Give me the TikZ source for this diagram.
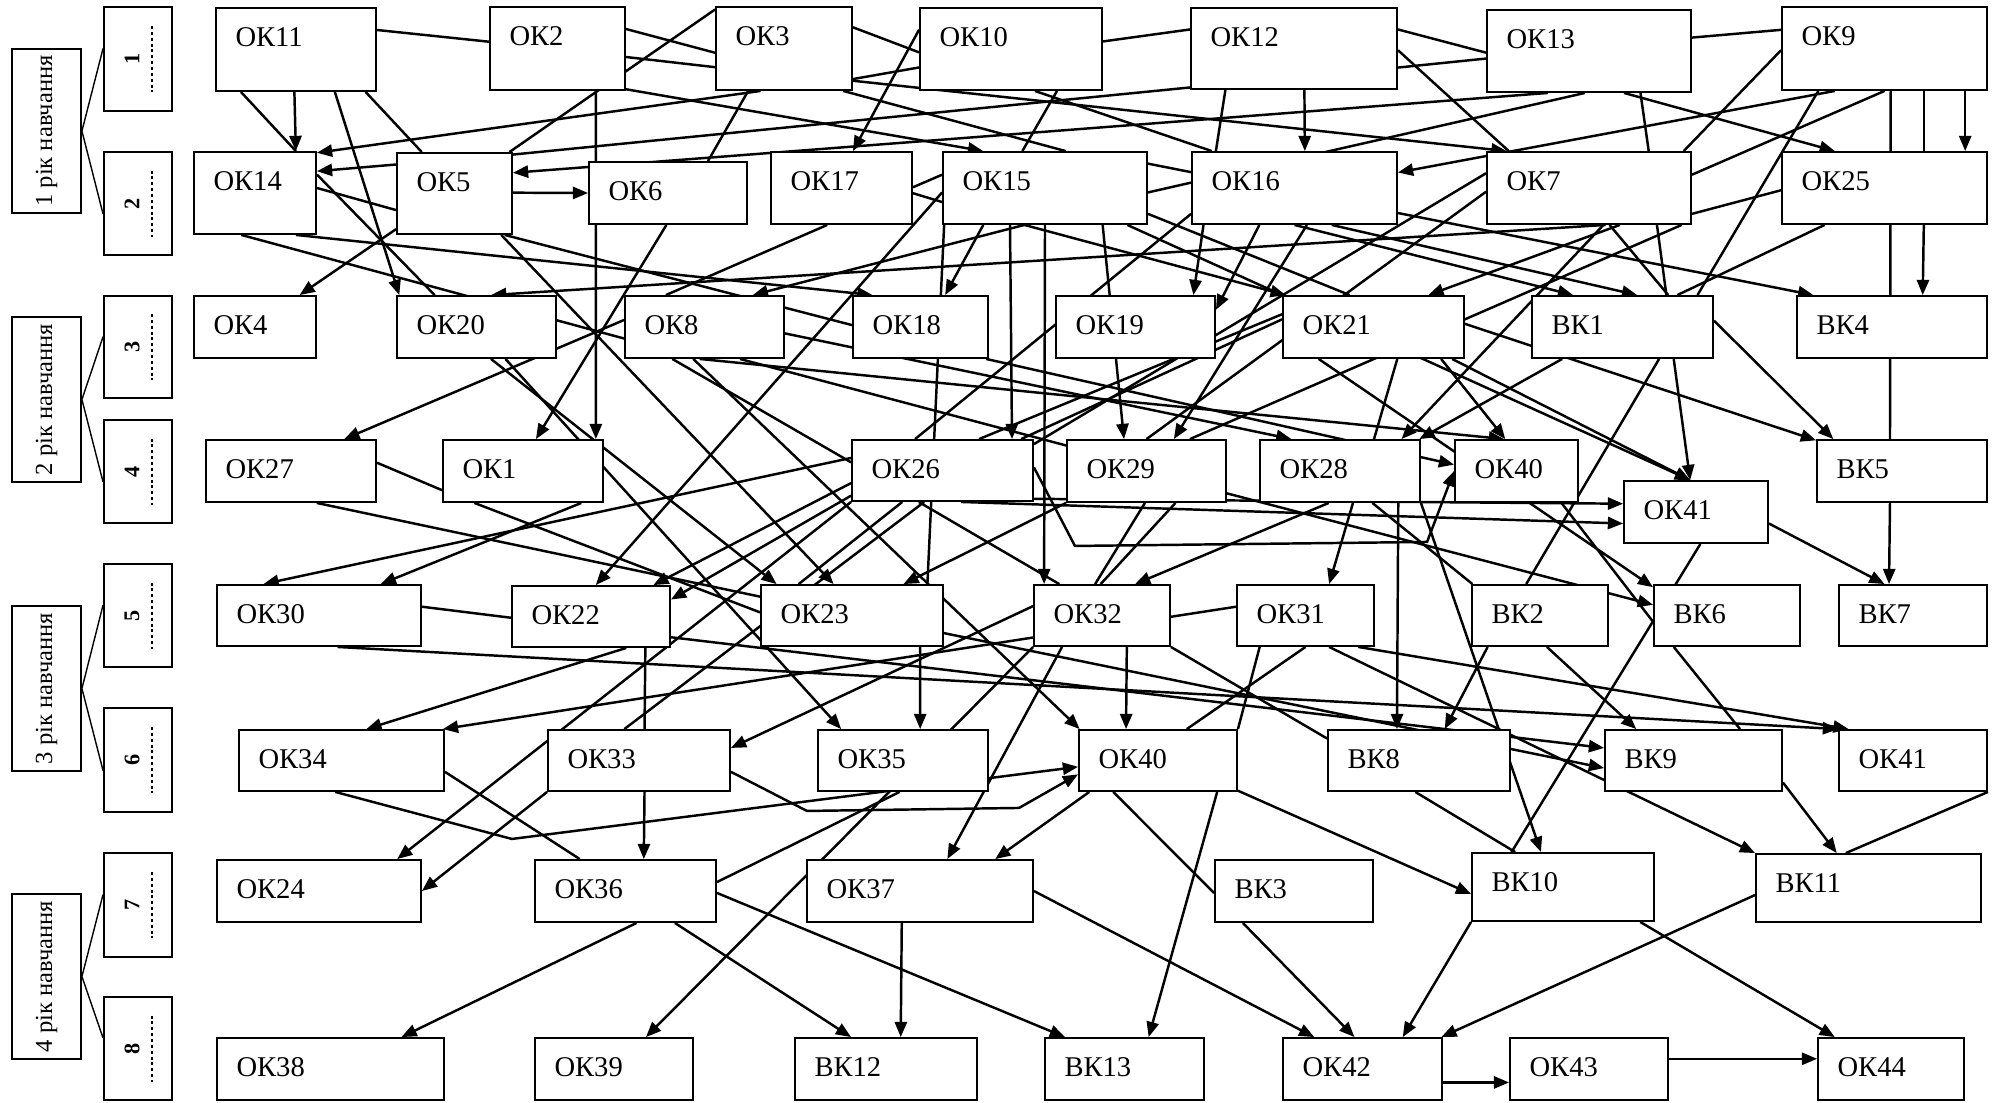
\documentclass[tikz,border=0pt]{standalone}
\usepackage{fontspec}
\setmainfont{Liberation Serif}
\usetikzlibrary{calc,fit,backgrounds,arrows.meta}
\newcommand{\atT}[2]{($(#1.north west)!#2!(#1.north east)$)}
\newcommand{\atB}[2]{($(#1.south west)!#2!(#1.south east)$)}
\newcommand{\atL}[2]{($(#1.north west)!#2!(#1.south west)$)}
\newcommand{\atR}[2]{($(#1.north east)!#2!(#1.south east)$)}
\tikzset{
  box/.style={draw, fill=white, inner sep=0pt, line width=0.8pt},
  lbl/.style={anchor=north west, inner sep=0pt, xshift=0.3cm, yshift=-0.3cm, font=\fontsize{12.2}{14}\selectfont},
  yeartxt/.style={rotate=90, inner sep=0pt, font=\fontsize{10.5}{12}\selectfont},
  semtxt/.style={rotate=90, inner sep=0pt, font=\bfseries\fontsize{9.5}{11}\selectfont},
  semdots/.style={line width=0.9pt, dash pattern=on 1.3pt off 1.2pt},
  lnk/.style={line width=1.05pt},
  >={Triangle[length=6.5pt,width=5.2pt]},
}
\begin{document}
\begin{tikzpicture}[x=0.015cm,y=-0.015cm]
\useasboundingbox (0,0) rectangle (1995,1102);
% years and semesters
\node[box, fit={(12,49)(81,213)}] (y1) {};
\node[box, fit={(12,317)(81,482)}] (y2) {};
\node[box, fit={(12,606)(81,771)}] (y3) {};
\node[box, fit={(12,894)(81,1059)}] (y4) {};
\node[yeartxt] (y1t) at (y1) {1 рік навчання};
\node[yeartxt] (y2t) at (y2) {2 рік навчання};
\node[yeartxt] (y3t) at (y3) {3 рік навчання};
\node[yeartxt] (y4t) at (y4) {4 рік навчання};
\node[box, fit={(104,7)(172,111)}] (s1) {};
\node[box, fit={(104,152)(172,255)}] (s2) {};
\node[box, fit={(104,296)(172,398)}] (s3) {};
\node[box, fit={(104,420)(172,523)}] (s4) {};
\node[box, fit={(104,564)(172,667)}] (s5) {};
\node[box, fit={(104,708)(172,812)}] (s6) {};
\node[box, fit={(104,853)(172,957)}] (s7) {};
\node[box, fit={(104,997)(172,1100)}] (s8) {};
\foreach \s in {1,...,8}{
  \node[semtxt] (s\s t) at ($(s\s)+(-6,0)$) {\s};
  \draw[semdots] ($(s\s)+(14,-33)$) -- ($(s\s)+(14,33)$);
}
% row 1
\node[box, fit={(216,8)(376,91)}, label={[lbl]north west:ОК11}] (ok11) {};
\node[box, fit={(490,7)(625,90)}, label={[lbl]north west:ОК2}] (ok2) {};
\node[box, fit={(716,7)(852,90)}, label={[lbl]north west:ОК3}] (ok3) {};
\node[box, fit={(920,8)(1102,90)}, label={[lbl]north west:ОК10}] (ok10) {};
\node[box, fit={(1191,8)(1397,89)}, label={[lbl]north west:ОК12}] (ok12) {};
\node[box, fit={(1487,10)(1691,92)}, label={[lbl]north west:ОК13}] (ok13) {};
\node[box, fit={(1782,7)(1987,90)}, label={[lbl]north west:ОК9}] (ok9) {};
% row 2
\node[box, fit={(194,152)(316,234)}, label={[lbl]north west:ОК14}] (ok14) {};
\node[box, fit={(397,153)(512,234)}, label={[lbl]north west:ОК5}] (ok5) {};
\node[box, fit={(589,162)(747,224)}, label={[lbl]north west:ОК6}] (ok6) {};
\node[box, fit={(771,152)(912,224)}, label={[lbl]north west:ОК17}] (ok17) {};
\node[box, fit={(943,152)(1147,224)}, label={[lbl]north west:ОК15}] (ok15) {};
\node[box, fit={(1192,152)(1397,224)}, label={[lbl]north west:ОК16}] (ok16) {};
\node[box, fit={(1487,152)(1691,224)}, label={[lbl]north west:ОК7}] (ok7) {};
\node[box, fit={(1782,152)(1987,224)}, label={[lbl]north west:ОК25}] (ok25) {};
% row 3
\node[box, fit={(194,296)(316,358)}, label={[lbl]north west:ОК4}] (ok4) {};
\node[box, fit={(397,296)(556,358)}, label={[lbl]north west:ОК20}] (ok20) {};
\node[box, fit={(625,296)(784,358)}, label={[lbl]north west:ОК8}] (ok8) {};
\node[box, fit={(853,296)(988,358)}, label={[lbl]north west:ОК18}] (ok18) {};
\node[box, fit={(1056,296)(1215,358)}, label={[lbl]north west:ОК19}] (ok19) {};
\node[box, fit={(1283,296)(1464,358)}, label={[lbl]north west:ОК21}] (ok21) {};
\node[box, fit={(1532,296)(1713,358)}, label={[lbl]north west:ВК1}] (vk1) {};
\node[box, fit={(1797,296)(1987,358)}, label={[lbl]north west:ВК4}] (vk4) {};
% row 4
\node[box, fit={(206,440)(376,502)}, label={[lbl]north west:ОК27}] (ok27) {};
\node[box, fit={(443,440)(603,502)}, label={[lbl]north west:ОК1}] (ok1) {};
\node[box, fit={(852,440)(1033,501)}, label={[lbl]north west:ОК26}] (ok26) {};
\node[box, fit={(1067,440)(1226,502)}, label={[lbl]north west:ОК29}] (ok29) {};
\node[box, fit={(1260,440)(1420,502)}, label={[lbl]north west:ОК28}] (ok28) {};
\node[box, fit={(1455,440)(1578,502)}, label={[lbl]north west:ОК40}] (ok40u) {};
\node[box, fit={(1624,481)(1768,543)}, label={[lbl]north west:ОК41}] (ok41u) {};
\node[box, fit={(1817,440)(1987,502)}, label={[lbl]north west:ВК5}] (vk5) {};
% row 5
\node[box, fit={(217,585)(421,646)}, label={[lbl]north west:ОК30}] (ok30) {};
\node[box, fit={(512,586)(670,647)}, label={[lbl]north west:ОК22}] (ok22) {};
\node[box, fit={(761,585)(943,646)}, label={[lbl]north west:ОК23}] (ok23) {};
\node[box, fit={(1034,585)(1170,646)}, label={[lbl]north west:ОК32}] (ok32) {};
\node[box, fit={(1237,585)(1374,646)}, label={[lbl]north west:ОК31}] (ok31) {};
\node[box, fit={(1472,585)(1608,646)}, label={[lbl]north west:ВК2}] (vk2) {};
\node[box, fit={(1654,585)(1800,646)}, label={[lbl]north west:ВК6}] (vk6) {};
\node[box, fit={(1839,585)(1987,646)}, label={[lbl]north west:ВК7}] (vk7) {};
% row 6
\node[box, fit={(239,730)(444,791)}, label={[lbl]north west:ОК34}] (ok34) {};
\node[box, fit={(548,730)(730,791)}, label={[lbl]north west:ОК33}] (ok33) {};
\node[box, fit={(818,730)(988,791)}, label={[lbl]north west:ОК35}] (ok35) {};
\node[box, fit={(1079,730)(1237,791)}, label={[lbl]north west:ОК40}] (ok40l) {};
\node[box, fit={(1328,730)(1510,791)}, label={[lbl]north west:ВК8}] (vk8) {};
\node[box, fit={(1605,730)(1782,791)}, label={[lbl]north west:ВК9}] (vk9) {};
\node[box, fit={(1839,730)(1987,791)}, label={[lbl]north west:ОК41}] (ok41l) {};
% row 7
\node[box, fit={(217,860)(421,922)}, label={[lbl]north west:ОК24}] (ok24) {};
\node[box, fit={(535,860)(716,922)}, label={[lbl]north west:ОК36}] (ok36) {};
\node[box, fit={(807,860)(1033,922)}, label={[lbl]north west:ОК37}] (ok37) {};
\node[box, fit={(1215,860)(1373,922)}, label={[lbl]north west:ВК3}] (vk3) {};
\node[box, fit={(1472,853)(1654,921)}, label={[lbl]north west:ВК10}] (vk10) {};
\node[box, fit={(1756,854)(1981,922)}, label={[lbl]north west:ВК11}] (vk11) {};
% row 8
\node[box, fit={(217,1038)(444,1100)}, label={[lbl]north west:ОК38}] (ok38) {};
\node[box, fit={(535,1038)(693,1100)}, label={[lbl]north west:ОК39}] (ok39) {};
\node[box, fit={(795,1038)(977,1100)}, label={[lbl]north west:ВК12}] (vk12) {};
\node[box, fit={(1045,1038)(1204,1100)}, label={[lbl]north west:ВК13}] (vk13) {};
\node[box, fit={(1283,1038)(1442,1100)}, label={[lbl]north west:ОК42}] (ok42) {};
\node[box, fit={(1510,1038)(1668,1100)}, label={[lbl]north west:ОК43}] (ok43) {};
\node[box, fit={(1818,1038)(1964,1100)}, label={[lbl]north west:ОК44}] (ok44) {};
\begin{pgfonlayer}{background}
\fill[white] (0,0) rectangle (1995,1102);
\begin{scope}[line width=0.6pt]
\draw (y1.east) -- \atL{s1}{0.4}; \draw (y1.east) -- \atL{s2}{0.6};
\draw (y2.east) -- \atL{s3}{0.4}; \draw (y2.east) -- \atL{s4}{0.6};
\draw (y3.east) -- \atL{s5}{0.4}; \draw (y3.east) -- \atL{s6}{0.6};
\draw (y4.east) -- \atL{s7}{0.4}; \draw (y4.east) -- \atL{s8}{0.4};
\end{scope}
\begin{scope}[lnk]
% from the first row
\draw \atR{ok11}{0.27} -- \atL{ok2}{0.42};
\draw \atR{ok2}{0.27} -- \atL{ok3}{0.55};
\draw \atR{ok2}{0.6} -- \atL{ok3}{0.72};
\draw \atT{ok5}{0.97} -- \atL{ok3}{0.04};
\draw \atR{ok3}{0.25} -- \atL{ok10}{0.54};
\draw \atR{ok3}{0.86} -- \atL{ok10}{0.72};
\draw[->] \atR{ok3}{0.88} -- \atT{ok7}{0.1};
\draw \atR{ok10}{0.41} -- \atL{ok12}{0.27};
\draw \atR{ok12}{0.27} -- \atL{ok13}{0.52};
\draw \atR{ok12}{0.73} -- \atL{ok13}{0.59};
\draw \atR{ok13}{0.34} -- \atL{ok9}{0.28};
\draw \atR{ok12}{0.52} -- \atT{ok7}{0.11};
\draw[->] \atB{ok12}{0.55} -- \atT{ok16}{0.55};
\draw \atB{ok12}{0.17} -- \atT{ok16}{0.12};
\draw \atL{ok12}{0.97} -- \atR{ok5}{0.03};
\draw[->] \atB{ok13}{0.3} -- \atR{ok5}{0.25};
\draw \atB{ok13}{0.48} -- \atR{ok15}{0.56};
\draw[->] \atB{ok13}{0.67} -- \atT{ok25}{0.26};
\draw \atB{ok13}{0.75} -- \atT{ok7}{0.79};
\draw[->] \atB{ok9}{0.26} -- \atR{ok16}{0.29};
\draw \atL{ok9}{0.52} -- \atT{ok7}{0.96};
\draw \atB{ok9}{0.5} -- \atR{ok7}{0.32};
\draw \atB{ok9}{0.18} -- \atT{vk1}{0.91};
\draw[->] \atB{ok9}{0.89} -- \atT{ok25}{0.89};
\draw \atB{ok9}{0.69} -- \atT{ok25}{0.69};
\draw[->] \atB{ok25}{0.69} -- \atT{vk4}{0.66};
\draw \atB{ok9}{0.53} -- \atT{vk5}{0.43};
\draw[->] \atB{vk5}{0.43} -- \atT{vk7}{0.34};
\draw[->] \atL{ok10}{0.27} -- \atT{ok17}{0.58};
\draw \atB{ok10}{0.63} -- \atT{ok16}{0.1};
\draw \atB{ok10}{0.75} -- \atT{ok15}{0.39};
\draw[->] \atR{ok2}{0.98} -- \atT{ok15}{0.2};
\draw \atB{ok3}{0.93} -- \atT{ok15}{0.6};
\draw \atB{ok3}{0.24} -- \atT{ok6}{0.75};
\draw[->] \atB{ok3}{0.33} -- \atR{ok14}{0.02};
\draw[->] \atB{ok11}{0.49} -- \atT{ok14}{0.83};
\draw \atB{ok11}{0.16} -- \atT{ok14}{0.83};
\draw[->] \atB{ok11}{0.74} -- \atT{ok20}{0.02};
\draw \atB{ok11}{0.93} -- \atT{ok5}{0.22};
\draw[->] \atB{ok2}{0.78} -- \atT{ok1}{0.95};
% from the second row
\draw[->] \atL{ok5}{0.15} -- \atR{ok14}{0.24};
\draw \atR{ok14}{0.44} -- \atL{ok5}{0.7};
\draw[->] \atR{ok5}{0.49} -- \atL{ok6}{0.5};
\draw[->] \atL{ok5}{0.93} -- \atT{ok4}{0.86};
\draw \atR{ok14}{0.28} -- \atT{ok20}{0.24};
\draw \atB{ok14}{0.39} -- \atL{ok8}{0.68};
\draw[->] \atB{ok14}{0.83} -- \atT{ok18}{0.15};
\draw[->] \atB{ok5}{0.9} -- \atT{ok23}{0.4};
\draw \atB{ok5}{0.93} -- \atL{ok18}{0.47};
\draw[->] \atB{ok6}{0.49} -- \atT{ok1}{0.58};
\draw \atR{ok17}{0.49} -- \atL{ok15}{0.32};
\draw \atR{ok17}{0.57} -- \atL{ok15}{0.69};
\draw \atB{ok17}{0.4} -- \atT{ok8}{0.26};
\draw[->] \atL{ok15}{0.56} -- \atT{ok22}{0.53};
\draw[->] \atB{ok15}{0.2} -- \atT{ok18}{0.68};
\draw \atB{ok15}{0.01} -- \atT{ok23}{0.91};
\draw[->] \atB{ok23}{0.87} -- \atT{ok35}{0.6};
\draw[->] \atB{ok15}{0.33} -- \atT{ok26}{0.88};
\draw[->] \atB{ok15}{0.5} -- \atT{ok32}{0.08};
\draw[->] \atB{ok15}{0.78} -- \atT{ok29}{0.36};
\draw[->] \atB{ok15}{0.4} -- \atT{ok8}{0.8};
\draw[->] \atB{ok15}{0.4} -- \atT{ok21}{0.02};
\draw \atR{ok15}{0.85} -- \atT{ok21}{0.37};
\draw[->] \atR{ok15}{0.17} -- \atT{vk4}{0.09};
\draw[->] \atB{ok15}{0.9} -- \atT{ok41u}{0.46};
\draw[->] \atB{ok16}{0.06} -- \atT{ok19}{0.86};
\draw[->] \atB{ok16}{0.33} -- \atR{ok19}{0.23};
\draw[->] \atB{ok16}{0.56} -- \atT{ok29}{0.67};
\draw \atL{ok16}{0.85} -- \atT{ok26}{0.35};
\draw[->] \atB{ok16}{0.5} -- \atT{vk1}{0.23};
\draw[->] \atB{ok16}{0.68} -- \atT{vk1}{0.58};
\draw[->] \atB{ok7}{0.58} -- \atT{ok20}{0.59};
\draw \atL{ok7}{0.3} -- \atR{ok26}{0.08};
\draw \atL{ok7}{0.55} -- \atT{ok29}{0.5};
\draw[->] \atB{ok7}{0.57} -- \atT{ok28}{0.88};
\draw[->] \atB{ok7}{0.65} -- \atT{ok21}{0.8};
\draw \atB{ok7}{0.6} -- \atT{vk1}{0.75};
\draw \atB{ok7}{0.83} -- \atT{vk1}{0.74};
\draw \atB{ok7}{0.95} -- \atT{ok29}{0.77};
\draw \atL{ok25}{0.53} -- \atR{ok7}{0.85};
\draw \atB{ok25}{0.21} -- \atT{vk1}{0.8};
% from the third row
\draw[->] \atL{ok8}{0.39} -- \atT{ok27}{0.81};
\draw[->] \atB{ok20}{0.59} -- \atT{ok23}{0.09};
\draw[->] \atB{ok20}{0.68} -- \atT{ok35}{0.14};
\draw[->] \atB{ok8}{0.43} -- \atT{ok40l}{0.01};
\draw \atB{ok8}{0.3} -- \atL{ok26}{0.37};
\draw[->] \atR{ok8}{0.6} -- \atT{ok28}{0.2};
\draw \atB{ok8}{0.72} -- \atL{ok29}{0.1};
\draw[->] \atB{ok8}{0.47} -- \atT{ok40u}{0.4};
\draw[->] \atB{ok18}{0.98} -- \atL{ok40u}{0.4};
\draw \atL{ok21}{0.3} -- \atT{ok26}{0.7};
\draw \atL{ok21}{0.38} -- \atT{ok26}{0.93};
\draw[->] \atB{ok21}{0.87} -- \atT{ok40u}{0.41};
\draw[->] \atB{ok21}{0.2} -- \atL{vk6}{0.05};
\draw[->] \atB{ok21}{0.93} -- \atT{ok41u}{0.46};
\draw[->] \atR{ok21}{0.45} -- \atL{vk5}{0.02};
\draw \atB{ok21}{0.63} -- \atT{ok28}{0.71};
\draw[->] \atR{vk1}{0.4} -- \atT{vk5}{0.1};
\draw[->] \atB{vk1}{0.78} -- \atT{ok41u}{0.46};
\draw[->] \atB{vk1}{0.17} -- \atT{ok28}{0.99};
\draw \atB{vk1}{0.7} -- \atT{vk2}{0.4};
% from the fourth row
\draw \atR{ok27}{0.37} -- \atL{ok1}{0.8};
\draw \atB{ok27}{0.65} -- \atL{ok23}{0.2};
\draw \atB{ok1}{0.2} -- \atL{ok23}{0.45};
\draw[->] \atB{ok1}{0.86} -- \atT{ok30}{0.8};
\draw[->] \atL{ok26}{0.3} -- \atT{ok30}{0.23};
\draw[->] \atB{ok26}{0} -- \atT{ok24}{0.88};
\draw[->] \atL{ok26}{0.7} -- \atT{ok22}{0.89};
\draw[->] \atL{ok26}{0.9} -- \atR{ok22}{0.23};
\draw \atB{ok26}{0.4} -- \atT{ok33}{0.42};
\draw \atB{ok26}{0.28} -- \atT{ok23}{0.21};
\draw \atB{ok26}{0.37} -- \atT{ok32}{0.19};
\draw[->] \atR{ok26}{0.95} -- \atL{ok41u}{0.37};
\draw[->] \atB{ok26}{0.6} -- \atL{ok41u}{0.68};
\draw[->] \atR{ok26}{0.45} -- ($(ok26.south east)+(41,44)$) -- ($(ok40u.south west)+(-27,39)$) -- \atL{ok40u}{0.5};
\draw[->] \atR{ok29}{0.85} -- \atL{vk6}{0.33};
\draw[->] \atB{ok29}{0} -- \atT{ok23}{0.78};
\draw \atB{ok29}{0.49} -- \atT{ok32}{0.45};
\draw \atB{ok29}{0.68} -- \atT{ok32}{0.49};
\draw[->] \atB{ok28}{0.43} -- \atT{ok32}{0.74};
\draw[->] \atB{ok28}{0.58} -- \atT{ok31}{0.67};
\draw[->] \atB{ok28}{0.86} -- \atT{vk8}{0.38};
\draw \atB{ok28}{0.7} -- \atT{vk2}{0.01};
\draw[->] \atB{ok28}{1} -- \atT{vk10}{0.38};
\draw \atB{ok40u}{0.86} -- \atL{vk6}{0.6};
\draw[->] \atR{ok41u}{0.68} -- \atT{vk7}{0.31};
\draw \atB{ok41u}{0.53} -- \atT{vk10}{0.22};
% from the fifth row
\draw \atR{ok30}{0.36} -- \atL{ok22}{0.52};
\draw[->] \atB{ok30}{0.59} -- \atL{ok41l}{0};
\draw[->] \atB{ok31}{0.88} -- \atT{ok41l}{0.07};
\draw \atB{ok22}{0.84} -- \atT{ok33}{0.53};
\draw[->] \atB{ok33}{0.53} -- \atT{ok36}{0.6};
\draw[->] \atB{ok22}{0.72} -- \atT{ok34}{0.62};
\draw[->] \atL{ok32}{0.85} -- \atT{ok34}{0.99};
\draw[->] \atL{ok32}{0.35} -- \atR{ok33}{0.3};
\draw \atR{ok32}{0.52} -- \atL{ok31}{0.36};
\draw[->] \atB{ok32}{0.68} -- \atT{ok40l}{0.3};
\draw[->] \atB{ok32}{0.21} -- \atT{ok37}{0.62};
\draw[->] \atB{ok32}{0} -- \atT{ok39}{0.7};
\draw \atR{ok32}{1} -- \atL{vk8}{0.15};
\draw \atB{ok31}{0.17} -- \atR{ok40l}{0};
\draw \atB{ok31}{0.5} -- \atT{ok40l}{0.68};
\draw[->] \atB{ok31}{0.67} -- \atT{vk11}{0};
\draw[->] \atB{vk2}{0.12} -- \atT{vk8}{0.64};
\draw[->] \atB{vk2}{0.55} -- \atT{vk9}{0.18};
\draw \atB{vk6}{0.14} -- \atT{vk9}{0.76};
\draw[->] \atR{ok22}{0.83} -- \atL{vk9}{0.3};
\draw[->] \atR{ok23}{0.78} -- \atL{vk9}{0.62};
% from the sixth row
\draw[->] \atB{ok33}{0} -- \atR{ok24}{0.5};
\draw[->] \atR{ok33}{0.68} -- ($(ok33.south east)+(76,19)$) -- ($(ok40l.south west)+(-59,16)$) -- \atL{ok40l}{0.72};
\draw[->] \atB{ok34}{0.47} -- ($(ok34.south east)+(67,47)$) -- \atL{ok40l}{0.6};
\draw \atR{ok34}{0.68} -- \atT{ok36}{0.25};
\draw \atR{ok36}{0.36} -- \atB{ok35}{0.48};
\draw[->] \atB{ok40l}{0.07} -- \atT{ok37}{0.83};
\draw \atB{ok40l}{0.22} -- \atL{vk3}{0.53};
\draw[->] \atB{ok40l}{0.87} -- \atT{vk13}{0.65};
\draw[->] \atR{ok40l}{0.98} -- \atL{vk10}{0.6};
\draw \atB{vk8}{0.48} -- \atT{vk10}{0.24};
\draw[->] \atR{vk9}{0.85} -- \atT{vk11}{0.36};
\draw \atB{ok41l}{1} -- \atT{vk11}{0.4};
% from the seventh row
\draw[->] \atB{ok36}{0.56} -- \atT{ok38}{0.81};
\draw[->] \atB{ok36}{0.77} -- \atT{vk12}{0.31};
\draw[->] \atR{ok36}{0.53} -- \atT{vk13}{0.13};
\draw[->] \atB{ok37}{0.42} -- \atT{vk12}{0.58};
\draw[->] \atR{ok37}{0.5} -- \atT{ok42}{0.2};
\draw[->] \atB{vk3}{0.18} -- \atT{ok42}{0.45};
\draw[->] \atB{vk10}{0} -- \atT{ok42}{0.75};
\draw[->] \atL{vk11}{0.6} -- \atT{ok42}{0.99};
\draw[->] \atB{vk10}{0.92} -- \atT{ok44}{0.12};
% last row
\draw[->] \atR{ok42}{0.71} -- \atL{ok43}{0.71};
\draw[->] \atR{ok43}{0.34} -- \atL{ok44}{0.34};
\end{scope}
\end{pgfonlayer}
\end{tikzpicture}
\end{document}
